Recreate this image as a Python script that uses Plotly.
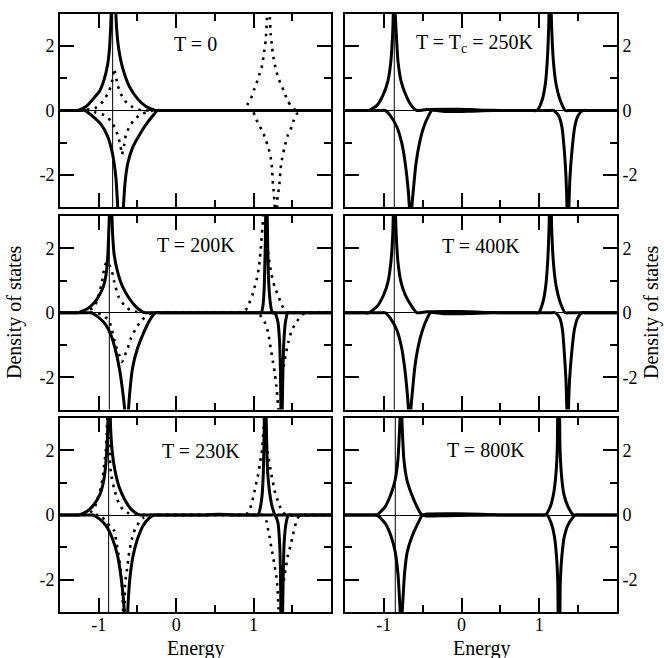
import plotly.graph_objects as go
from plotly.subplots import make_subplots

# ---------------- axis ticks ----------------
x_major = [-1, 0, 1]
x_major_text = ["-1", "0", "1"]
x_minor = [-0.5, 0.5, 1.5]
y_major = [-2, 0, 2]
y_major_text = ["-2", "0", "2"]
y_minor = [-1, 1]
x_range = [-1.5, 2.0]
y_range = [-3, 3]

# ---------------- panel labels / chemical potential ----------------
labels = ["T = 0", "T = T<sub>c</sub> = 250K", "T = 200K", "T = 400K", "T = 230K", "T = 800K"]
label_x = [0.25, 0.17, 0.25, 0.25, 0.32, 0.31]
label_y = [2.08, 2.08, 2.10, 2.07, 1.97, 2.02]
mu = [-0.82, -0.866, -0.863, -0.866, -0.872, -0.853]

# ---------------- T = 0 ----------------
t0_up_x = [-1.5, -1.33, -1.27, -1.16, -1.08, -0.99, -0.93, -0.885, -0.86, -0.846, -0.81, -0.769, -0.744, -0.692, -0.607, -0.50, -0.393, -0.265, -0.20, 2.0]
t0_up_y = [0, 0, 0, 0.13, 0.34, 0.60, 0.96, 1.43, 1.95, 2.57, 4.5, 2.57, 1.95, 1.33, 0.76, 0.37, 0.13, 0, 0, 0]
t0_dn_x = [-1.5, -1.24, -1.18, -1.077, -0.97, -0.885, -0.82, -0.778, -0.752, -0.718, -0.684, -0.662, -0.628, -0.564, -0.457, -0.372, -0.286, -0.244, -0.18, 2.0]
t0_dn_y = [0, 0, 0, -0.18, -0.43, -0.80, -1.37, -2.09, -3.10, -4.5, -3.10, -2.30, -1.68, -1.16, -0.69, -0.38, -0.12, 0, 0, 0]
t0_dup_x = [-1.36, -1.30, -1.248, -1.043, -0.949, -0.885, -0.842, -0.82, -0.80, -0.756, -0.714, -0.658, -0.564, -0.457, -0.40, -0.34,
            0.81, 0.87, 0.895, 0.93, 0.96, 1.006, 1.05, 1.08, 1.11, 1.13, 1.156, 1.172, 1.19, 1.21, 1.22, 1.24, 1.26, 1.29,
            1.33, 1.36, 1.40, 1.44, 1.48, 1.52, 1.56, 1.62]
t0_dup_y = [0, 0, 0, 0.08, 0.27, 0.52, 0.76, 1.01, 1.30, 0.79, 0.52, 0.29, 0.11, 0.01, 0, 0,
            0, 0, 0.10, 0.22, 0.34, 0.64, 0.93, 1.16, 1.40, 1.71, 2.17, 2.80, 3.6, 2.90, 2.40, 1.95, 1.60, 1.25,
            0.95, 0.78, 0.55, 0.31, 0.15, 0.05, 0, 0]
t0_ddn_x = [-1.16, -1.10, -1.034, -0.927, -0.842, -0.786, -0.744, -0.718, -0.70, -0.67, -0.65, -0.607, -0.53, -0.436, -0.34, -0.30, -0.24,
            0.93, 0.99, 1.015, 1.06, 1.12, 1.16, 1.195, 1.22, 1.237, 1.25, 1.263, 1.27, 1.29, 1.31, 1.33, 1.356, 1.40,
            1.44, 1.49, 1.52, 1.56, 1.61, 1.65, 1.71]
t0_ddn_y = [0, 0, -0.07, -0.14, -0.33, -0.56, -0.85, -1.11, -1.37, -1.06, -0.77, -0.52, -0.25, -0.10, -0.02, 0, 0,
            0, 0, -0.16, -0.41, -0.67, -0.93, -1.19, -1.45, -1.76, -2.28, -2.59, -2.85, -3.6, -2.69, -2.38, -1.66, -1.14,
            -0.78, -0.52, -0.30, -0.10, -0.05, 0, 0]

# ---------------- T = 200K ----------------
t200_up_x = [-1.5, -1.33, -1.27, -1.141, -1.056, -0.991, -0.94, -0.906, -0.885, -0.872, -0.863, -0.846, -0.829, -0.82, -0.80, -0.756, -0.692, -0.607, -0.521, -0.436, -0.393, -0.33,
             1.04, 1.10, 1.122, 1.135, 1.143, 1.152, 1.165, 1.182, 1.19, 1.203, 1.22, 1.242, 1.30, 2.0]
t200_up_y = [0, 0, 0, 0.13, 0.32, 0.55, 0.81, 1.17, 1.69, 2.41, 3.03, 4.5, 3.03, 2.41, 1.79, 1.27, 0.81, 0.45, 0.19, 0.03, 0, 0,
             0, 0, 0.24, 0.65, 1.27, 2.2, 4.5, 2.2, 1.27, 0.65, 0.24, 0, 0, 0]
t200_dn_x = [-1.5, -1.16, -1.098, -1.013, -0.906, -0.842, -0.778, -0.726, -0.684, -0.658, -0.64, -0.62, -0.598, -0.564, -0.50, -0.415, -0.329, -0.265, -0.20,
             1.21, 1.272, 1.314, 1.336, 1.348, 1.353, 1.361, 1.37, 1.378, 1.391, 1.412, 1.442, 1.50, 2.0]
t200_dn_y = [0, 0, 0, -0.12, -0.38, -0.69, -1.21, -1.83, -2.56, -3.18, -4.5, -3.18, -2.45, -1.73, -1.11, -0.59, -0.18, 0, 0,
             0, 0, -0.28, -0.90, -1.94, -3.07, -4.5, -3.07, -1.94, -0.90, -0.28, 0, 0, 0]
t200_dup_x = [-1.31, -1.25, -1.162, -1.056, -1.013, -0.983, -0.957, -0.94, -0.919, -0.885, -0.863, -0.833, -0.80, -0.744, -0.671, -0.594, -0.479, -0.35, 0.0,
              0.74, 0.80, 0.886, 0.942, 0.985, 1.015, 1.045, 1.066, 1.079, 1.092, 1.10, 1.113, 1.125, 1.14, 1.16, 1.186, 1.207, 1.229, 1.271, 1.314, 1.365, 1.421, 1.50, 2.0]
t200_dup_y = [0, 0, 0.03, 0.19, 0.45, 0.70, 0.96, 1.22, 1.48, 1.58, 1.48, 1.33, 0.96, 0.50, 0.24, 0.08, 0.01, 0, 0,
              0, 0, 0.03, 0.29, 0.55, 0.81, 1.09, 1.36, 1.64, 1.95, 2.20, 2.60, 3.00, 3.80, 2.60, 1.89, 1.53, 1.22, 0.81, 0.55, 0.24, 0, 0, 0]
t200_ddn_x = [-1.11, -1.05, -0.949, -0.863, -0.829, -0.80, -0.769, -0.735, -0.70, -0.671, -0.628, -0.585, -0.521, -0.444, -0.35, -0.25, -0.19,
              0.99, 1.05, 1.10, 1.152, 1.186, 1.207, 1.229, 1.25, 1.271, 1.293, 1.306, 1.314, 1.323, 1.345, 1.365, 1.378, 1.40, 1.421, 1.451, 1.494, 1.562, 1.635, 1.75, 2.0]
t200_ddn_y = [0, 0, -0.07, -0.26, -0.54, -0.82, -1.09, -1.31, -1.52, -1.37, -1.11, -0.80, -0.49, -0.23, -0.05, 0, 0,
              0, 0, -0.12, -0.33, -0.59, -0.88, -1.21, -1.52, -1.83, -2.25, -2.56, -2.82, -3.07, -3.8, -2.5, -1.83, -1.52, -1.21, -0.90, -0.54, -0.26, -0.05, 0, 0]

# ---------------- T = 230K ----------------
t230_up_x = [-1.5, -1.32, -1.256, -1.141, -1.056, -0.991, -0.949, -0.919, -0.897, -0.885, -0.865, -0.845, -0.82, -0.786, -0.735, -0.658, -0.585, -0.50, -0.46, -0.40,
             0.30, 0.55, 0.80,
             1.00, 1.058, 1.092, 1.113, 1.126, 1.135, 1.15, 1.169, 1.182, 1.207, 1.237, 1.28, 1.34, 2.0]
t230_up_y = [0, 0, 0, 0.13, 0.34, 0.60, 0.91, 1.33, 1.95, 2.57, 4.5, 2.60, 1.84, 1.33, 0.86, 0.45, 0.19, 0.03, 0, 0,
             0, 0.02, 0,
             0, 0, 0.29, 0.70, 1.33, 2.26, 4.5, 2.26, 1.33, 0.70, 0.29, 0, 0, 0]
t230_dn_x = [-1.5, -1.14, -1.077, -0.991, -0.906, -0.82, -0.756, -0.714, -0.684, -0.667, -0.647, -0.628, -0.615, -0.594, -0.556, -0.50, -0.427, -0.35, -0.286, -0.22,
             1.21, 1.271, 1.314, 1.336, 1.348, 1.353, 1.363, 1.374, 1.383, 1.395, 1.421, 1.451, 1.51, 2.0]
t230_dn_y = [0, 0, 0, -0.12, -0.33, -0.75, -1.26, -1.88, -2.51, -3.13, -4.5, -3.13, -2.51, -1.88, -1.26, -0.75, -0.33, -0.10, 0, 0,
             0, 0, -0.23, -0.85, -1.88, -3.13, -4.5, -3.13, -1.88, -0.85, -0.23, 0, 0, 0]
t230_dup_x = [-1.31, -1.25, -1.162, -1.085, -1.043, -1.013, -0.983, -0.949, -0.936, -0.919, -0.906, -0.897, -0.89, -0.878, -0.862, -0.855, -0.842, -0.80, -0.769, -0.735, -0.684, -0.607, -0.50, -0.30, 0.10,
              0.84, 0.90, 0.951, 0.985, 1.015, 1.036, 1.058, 1.079, 1.10, 1.113, 1.122, 1.13, 1.135, 1.145, 1.16, 1.18, 1.207, 1.229, 1.25, 1.271, 1.305, 1.335, 1.38, 1.43, 2.0]
t230_dup_y = [0, 0, 0.01, 0.13, 0.29, 0.52, 0.76, 1.12, 1.43, 1.74, 2.05, 2.50, 2.93, 3.80, 2.40, 1.74, 1.27, 0.81, 0.55, 0.34, 0.16, 0.05, 0.01, 0, 0,
              0, 0, 0.17, 0.45, 0.76, 1.01, 1.24, 1.53, 1.84, 2.10, 2.41, 2.67, 2.93, 3.80, 2.50, 1.95, 1.58, 1.27, 1.01, 0.76, 0.50, 0.29, 0.08, 0, 0]
t230_ddn_x = [-1.04, -0.98, -0.906, -0.85, -0.80, -0.778, -0.756, -0.735, -0.714, -0.70, -0.692, -0.684, -0.675, -0.658, -0.628, -0.607, -0.573, -0.53, -0.479, -0.42, -0.35, -0.29,
              1.07, 1.13, 1.165, 1.186, 1.207, 1.229, 1.25, 1.271, 1.293, 1.306, 1.314, 1.323, 1.335, 1.36, 1.38, 1.40, 1.421, 1.442, 1.477, 1.506, 1.549, 1.592, 1.70, 2.0]
t230_ddn_y = [0, 0, -0.21, -0.35, -0.49, -0.75, -1.06, -1.37, -1.78, -2.19, -2.56, -3.02, -3.8, -2.09, -1.57, -1.16, -0.75, -0.43, -0.23, -0.08, 0, 0,
              0, 0, -0.18, -0.43, -0.69, -1.00, -1.26, -1.57, -1.88, -2.19, -2.51, -2.92, -3.8, -2.70, -2.20, -1.88, -1.57, -1.26, -0.95, -0.64, -0.23, -0.02, 0, 0]

# ---------------- T = Tc = 250K ----------------
tc_up_x = [-1.5, -1.26, -1.196, -1.089, -1.003, -0.947, -0.909, -0.887, -0.879, -0.866, -0.853, -0.84, -0.819, -0.78, -0.724, -0.647, -0.574,
           -0.45, -0.2, 0.1, 0.3, 0.5,
           0.91, 0.970, 1.035, 1.078, 1.103, 1.121, 1.138, 1.159, 1.181, 1.215, 1.271, 1.335, 1.40, 2.0]
tc_up_y = [0, 0, 0, 0.16, 0.52, 0.93, 1.55, 2.38, 3.0, 4.5, 3.0, 2.38, 1.55, 0.93, 0.52, 0.16, 0,
           0.03, 0.04, 0.03, 0.01, 0,
           0, 0, 0.31, 0.83, 1.55, 2.59, 4.5, 2.59, 1.55, 0.83, 0.31, 0, 0, 0]
tc_dn_x = [-1.5, -1.04, -0.982, -0.917, -0.831, -0.767, -0.724, -0.690, -0.673, -0.656, -0.638, -0.617, -0.587, -0.544, -0.488, -0.424, -0.382,
           -0.2, 0.1, 0.4,
           1.12, 1.185, 1.249, 1.292, 1.322, 1.344, 1.356, 1.369, 1.382, 1.395, 1.421, 1.455, 1.498, 1.558, 1.62, 2.0]
tc_dn_y = [0, 0, 0, -0.16, -0.52, -1.04, -1.66, -2.38, -2.95, -4.5, -2.95, -2.38, -1.66, -1.04, -0.52, -0.16, 0,
           -0.03, -0.02, 0,
           0, 0, -0.16, -0.52, -1.24, -2.07, -2.95, -4.5, -2.95, -2.07, -1.24, -0.52, -0.16, 0, 0, 0]

# ---------------- T = 400K ----------------
t400_up_x = [-1.5, -1.26, -1.196, -1.089, -1.003, -0.947, -0.909, -0.887, -0.879, -0.862, -0.849, -0.84, -0.819, -0.78, -0.724, -0.639, -0.574,
             -0.45, -0.2, 0.1, 0.3, 0.5,
             0.93, 0.992, 1.045, 1.083, 1.107, 1.125, 1.142, 1.16, 1.182, 1.217, 1.271, 1.335, 1.40, 2.0]
t400_up_y = [0, 0, 0, 0.19, 0.55, 0.96, 1.58, 2.36, 2.98, 4.5, 2.98, 2.36, 1.58, 0.96, 0.55, 0.19, 0,
             0.03, 0.04, 0.03, 0.01, 0,
             0, 0, 0.31, 0.83, 1.55, 2.59, 4.5, 2.59, 1.55, 0.83, 0.31, 0, 0, 0]
t400_dn_x = [-1.5, -1.04, -0.982, -0.92, -0.836, -0.775, -0.735, -0.703, -0.685, -0.668, -0.651, -0.63, -0.60, -0.557, -0.50, -0.44, -0.40,
             -0.2, 0.1, 0.4,
             1.145, 1.206, 1.262, 1.298, 1.322, 1.343, 1.354, 1.365, 1.376, 1.39, 1.417, 1.452, 1.495, 1.55, 1.61, 2.0]
t400_dn_y = [0, 0, 0, -0.16, -0.52, -1.04, -1.66, -2.38, -2.95, -4.5, -2.95, -2.38, -1.66, -1.04, -0.52, -0.16, 0,
             -0.03, -0.02, 0,
             0, 0, -0.16, -0.52, -1.24, -2.07, -2.95, -4.5, -2.95, -2.07, -1.24, -0.52, -0.16, 0, 0, 0]

# ---------------- T = 800K ----------------
t800_up_x = [-1.5, -1.15, -1.089, -0.982, -0.905, -0.854, -0.819, -0.802, -0.793, -0.78, -0.768, -0.759, -0.742, -0.704, -0.648, -0.575, -0.51,
             -0.45, -0.2, 0.1, 0.4, 0.5,
             1.02, 1.078, 1.142, 1.185, 1.215, 1.232, 1.236, 1.249, 1.262, 1.266, 1.284, 1.314, 1.369, 1.442, 1.50, 2.0]
t800_up_y = [0, 0, 0, 0.26, 0.67, 1.09, 1.71, 2.43, 2.95, 4.5, 2.95, 2.43, 1.71, 1.09, 0.67, 0.26, 0,
             0.03, 0.04, 0.03, 0.01, 0,
             0, 0, 0.26, 0.67, 1.29, 2.12, 2.95, 4.5, 2.95, 2.12, 1.29, 0.67, 0.26, 0, 0, 0]
t800_dn_x = [-1.5, -1.15, -1.089, -0.982, -0.905, -0.854, -0.819, -0.797, -0.79, -0.777, -0.764, -0.755, -0.734, -0.699, -0.639, -0.562, -0.502,
             -0.45, -0.2, 0.1, 0.4, 0.5,
             1.04, 1.099, 1.155, 1.195, 1.222, 1.238, 1.242, 1.254, 1.266, 1.27, 1.29, 1.322, 1.38, 1.464, 1.52, 2.0]
t800_dn_y = [0, 0, 0, -0.26, -0.67, -1.14, -1.81, -2.64, -3.0, -4.5, -3.0, -2.64, -1.81, -1.14, -0.67, -0.26, 0,
             -0.03, -0.02, -0.01, 0, 0,
             0, 0, -0.26, -0.67, -1.29, -2.12, -2.95, -4.5, -2.95, -2.12, -1.29, -0.67, -0.26, 0, 0, 0]

# ---------------- build figure ----------------
W, H = 664, 658
FONT = "Liberation Serif"

fig = make_subplots(rows=3, cols=2)

panels = [
    (1, 1, [(t0_up_x, t0_up_y), (t0_dn_x, t0_dn_y)], [(t0_dup_x, t0_dup_y), (t0_ddn_x, t0_ddn_y)]),
    (1, 2, [(tc_up_x, tc_up_y), (tc_dn_x, tc_dn_y)], []),
    (2, 1, [(t200_up_x, t200_up_y), (t200_dn_x, t200_dn_y)], [(t200_dup_x, t200_dup_y), (t200_ddn_x, t200_ddn_y)]),
    (2, 2, [(t400_up_x, t400_up_y), (t400_dn_x, t400_dn_y)], []),
    (3, 1, [(t230_up_x, t230_up_y), (t230_dn_x, t230_dn_y)], [(t230_dup_x, t230_dup_y), (t230_ddn_x, t230_ddn_y)]),
    (3, 2, [(t800_up_x, t800_up_y), (t800_dn_x, t800_dn_y)], []),
]

for i, (r, c, solids, dots) in enumerate(panels):
    for xs, ys in solids:
        fig.add_trace(go.Scatter(x=xs, y=ys, mode="lines",
                                 line=dict(color="black", width=3, shape="spline", smoothing=0.6),
                                 hoverinfo="skip"), row=r, col=c)
    for xs, ys in dots:
        fig.add_trace(go.Scatter(x=xs, y=ys, mode="lines",
                                 line=dict(color="black", width=2.6, dash="2.6px,5.4px", shape="spline", smoothing=0.5),
                                 hoverinfo="skip"), row=r, col=c)
    fig.add_vline(x=mu[i], line=dict(color="black", width=1), row=r, col=c)
    fig.add_annotation(x=label_x[i], y=label_y[i], text=labels[i], showarrow=False,
                       font=dict(family=FONT, size=20, color="black"),
                       xanchor="center", yanchor="middle", row=r, col=c)

x_dom = {1: (60, 331), 2: (345, 617)}
y_dom = {1: (14, 207), 2: (216, 409.5), 3: (418, 612)}

for i, (r, c, _, _) in enumerate(panels):
    k = i + 1
    xa = "xaxis" if k == 1 else f"xaxis{k}"
    ya = "yaxis" if k == 1 else f"yaxis{k}"
    x0, x1 = x_dom[c]
    y0, y1 = y_dom[r]
    fig.layout[xa].update(
        domain=[x0 / W, x1 / W], range=x_range, tickmode="array", tickvals=x_major, ticktext=x_major_text,
        ticks="inside", ticklen=14, tickwidth=2, tickcolor="black",
        minor=dict(tickmode="array", tickvals=x_minor, ticks="inside", ticklen=7, tickwidth=2, tickcolor="black"),
        showline=True, linewidth=2, linecolor="black", mirror="allticks",
        showgrid=False, zeroline=False, showticklabels=(r == 3), ticklabelstandoff=-5,
        tickfont=dict(family=FONT, size=18, color="black"),
    )
    fig.layout[ya].update(
        domain=[1 - y1 / H, 1 - y0 / H], range=y_range, tickmode="array", tickvals=y_major, ticktext=y_major_text,
        ticks="inside", ticklen=14, tickwidth=2, tickcolor="black",
        minor=dict(tickmode="array", tickvals=y_minor, ticks="inside", ticklen=7, tickwidth=2, tickcolor="black"),
        showline=True, linewidth=2, linecolor="black", mirror="allticks",
        showgrid=False, zeroline=True, zerolinecolor="black", zerolinewidth=1,
        side="left" if c == 1 else "right",
        tickfont=dict(family=FONT, size=18, color="black"),
    )

for xc in [(60 + 331) / 2, (345 + 617) / 2]:
    fig.add_annotation(x=xc / W, y=1 - 648 / H, xref="paper", yref="paper", text="Energy", showarrow=False,
                       font=dict(family=FONT, size=20, color="black"), xanchor="center", yanchor="middle")
for xc in [15, 652]:
    fig.add_annotation(x=xc / W, y=1 - 312 / H, xref="paper", yref="paper", text="Density of states",
                       showarrow=False, textangle=-90,
                       font=dict(family=FONT, size=20, color="black"), xanchor="center", yanchor="middle")

fig.update_layout(width=W, height=H, autosize=False, margin=dict(l=0, r=0, t=0, b=0),
                  showlegend=False, plot_bgcolor="white", paper_bgcolor="white")

fig.write_html("out.html")
